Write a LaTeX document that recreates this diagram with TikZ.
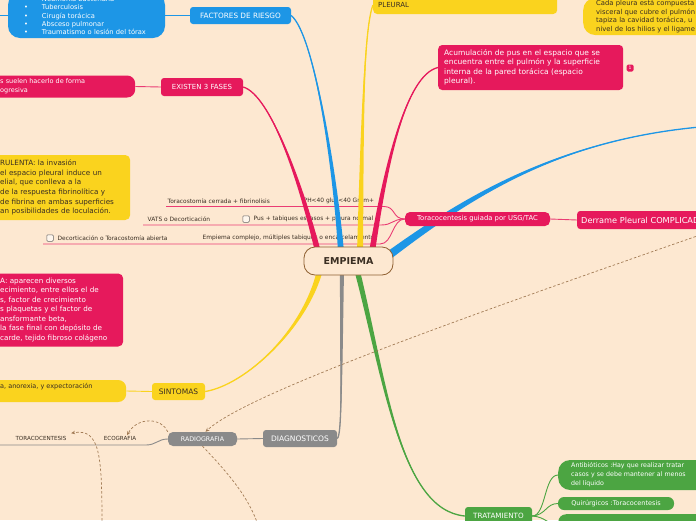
\documentclass[tikz,border=0pt]{standalone}
\usepackage{fontspec}
\setmainfont{DejaVu Sans}
\usetikzlibrary{arrows.meta,positioning,calc}
\definecolor{peach}{HTML}{FDE8D1}
\definecolor{mapblue}{HTML}{1D96E6}
\definecolor{mappink}{HTML}{E6195C}
\definecolor{mapyellow}{HTML}{FAD31E}
\definecolor{mapgray}{HTML}{8A8A8A}
\definecolor{mapgreen}{HTML}{4CA542}
\definecolor{mapbrown}{HTML}{8E5F30}
\definecolor{mapink}{HTML}{3A2E22}
\definecolor{dashbrown}{HTML}{A27B55}
\newcommand{\fsz}[2]{\fontsize{#1}{#2}\selectfont}
\pgfdeclarelayer{bg}
\pgfdeclarelayer{limbs}
\pgfsetlayers{bg,limbs,main}
\tikzset{
  topic/.style={rounded corners=3pt, inner sep=0pt, align=center},
  bluetopic/.style={topic, fill=mapblue, text=white},
  pinktopic/.style={topic, fill=mappink, text=white},
  yellowtopic/.style={topic, fill=mapyellow, text=mapink},
  graytopic/.style={topic, fill=mapgray, text=white},
  greentopic/.style={topic, fill=mapgreen, text=white},
  rootnode/.style={draw=mapbrown, line width=0.8pt, fill=peach, rounded corners=11pt,
                   minimum width=89pt, minimum height=28pt, inner sep=0pt,
                   font=\bfseries\fsz{9.5}{10}, text=mapink},
  rowtext/.style={inner sep=0.5pt, font=\fsz{5.9}{6}, text=mapink},
  checkbox/.style={draw=black!60, fill=white!60!peach, line width=0.5pt,
                   minimum size=6.5pt, inner sep=0pt, rounded corners=1pt},
  blueline/.style={draw=mapblue, line width=0.9pt},
  pinkline/.style={draw=mappink!85, line width=0.9pt},
  yellowline/.style={draw=mapyellow, line width=0.9pt},
  grayline/.style={draw=mapgray, line width=0.9pt},
  greenline/.style={draw=mapgreen, line width=0.9pt},
  dashline/.style={draw=dashbrown, line width=0.7pt, dash pattern=on 2.5pt off 2pt},
  dasharr/.style={dashline, -{Stealth[length=4pt,width=3.5pt]}},
}
% tapered branch: colour, root, ctrl near root, ctrl near tip, tip, half width at root
\newcommand{\limb}[6]{%
  \fill[#1] ($#2+#6$) .. controls ($#3+0.6*#6$) and #4 .. #5
    .. controls #4 and ($#3-0.6*#6$) .. ($#2-#6$) -- cycle;
  \draw[#1, line width=1.3pt] #2 .. controls #3 and #4 .. #5;%
}

\begin{document}
\begin{tikzpicture}[x=1pt,y=-1pt]
\useasboundingbox (0,0) rectangle (696,520);

% central topic
\node[rootnode] (empiema) at (348.5,261) {EMPIEMA};

% factores de riesgo
\node[bluetopic, minimum width=101pt, minimum height=17pt, font=\fsz{7.3}{8}]
  (factores) at (240.5,15.5) {FACTORES DE RIESGO};
\node[bluetopic, rounded corners=12pt, minimum height=45pt, text width=125pt,
      inner xsep=16pt, align=left, font=\fsz{6.7}{8.3}] (riesgos) at (86.5,15.5)
  {\makebox[18pt][l]{•}Neumonía bacteriana\\
   \makebox[18pt][l]{•}Tuberculosis\\
   \makebox[18pt][l]{•}Cirugía torácica\\
   \makebox[18pt][l]{•}Absceso pulmonar\\
   \makebox[18pt][l]{•}Traumatismo o lesión del tórax};
\coordinate (riesgoin) at (-2,15.5);

% fases
\node[pinktopic, minimum width=82pt, minimum height=18pt, font=\fsz{7}{8}]
  (fases) at (202,87) {EXISTEN 3 FASES};
\node[pinktopic, rounded corners=8pt, anchor=west, minimum height=22pt, text width=127pt,
      inner xsep=8pt, align=left, font=\fsz{6.5}{9}] (fasesdesc) at (-8,86.5)
  {s suelen hacerlo de forma\\ogresiva};
\node[yellowtopic, rounded corners=5pt, anchor=west, minimum height=65pt, text width=122pt,
      inner xsep=8pt, align=left, font=\fsz{7.2}{9.6}] (purulenta) at (-8,187.5)
  {RULENTA: la invasión\\el espacio pleural induce un\\elial, que conlleva a la\\
   de la respuesta fibrinolítica y\\de fibrina en ambas superficies\\
   an posibilidades de loculación.};
\node[pinktopic, rounded corners=5pt, anchor=west, minimum height=73pt, text width=115pt,
      inner xsep=8pt, align=left, font=\fsz{7.2}{9.5}] (organiza) at (-8,310)
  {A: aparecen diversos\\ecimiento, entre ellos el de\\s, factor de crecimiento\\
   s plaquetas y el factor de\\ansformante beta,\\la fase final con depósito de\\
   carde, tejido fibroso colágeno};

% sintomas
\node[yellowtopic, rounded corners=8pt, anchor=west, minimum width=134pt,
      minimum height=22pt] (sintdesc) at (-8,391) {};
\node[inner sep=0pt, anchor=west, font=\fsz{6.5}{7}, text=mapink]
  (sinttext) at (0,387) {a, anorexia, y expectoración};
\node[yellowtopic, minimum width=53pt, minimum height=17pt, font=\fsz{7.5}{8}]
  (sintomas) at (178.5,391.5) {SINTOMAS};

% diagnosticos
\node[graytopic, minimum width=74pt, minimum height=17pt, font=\fsz{7.5}{8}]
  (diagnosticos) at (300,438.5) {DIAGNOSTICOS};
\node[graytopic, rounded corners=5pt, minimum width=69pt, minimum height=14pt,
      font=\fsz{6.3}{7}] (radiografia) at (202.5,439) {RADIOGRAFIA};
\node[rowtext, font=\fsz{5.6}{6}] (ecografia) at (120,438) {ECOGRAFIA};
\node[rowtext, font=\fsz{5.6}{6}] (toracocentesis) at (41,438) {TORACOCENTESIS};
\coordinate (radioout) at (-2,445);
\coordinate (radioend) at (258,525);
\coordinate (toraout) at (102,525);

% derrame complicado
\node[pinktopic, rounded corners=5pt, minimum width=145pt, minimum height=14pt,
      font=\fsz{6.8}{7}] (toraco) at (477.5,219) {Toracocentesis guiada por USG/TAC};
\node[pinktopic, anchor=west, minimum height=18pt, inner xsep=4pt, font=\fsz{8.2}{9}]
  (derrame) at (577,220) {Derrame Pleural COMPLICADO};
\node[pinktopic, rounded corners=4pt, anchor=west, minimum height=45pt, text width=173pt,
      inner xsep=6pt, align=left, font=\fsz{7.5}{9.5}] (acumula) at (438,67.5)
  {Acumulación de pus en el espacio que se\\encuentra entre el pulmón y la superficie\\
   interna de la pared torácica (espacio\\pleural).};
\node[pinktopic, rounded corners=1.5pt, minimum size=7pt, font=\fsz{4.5}{5}]
  (nota) at (630,68) {1};

% pleura
\node[yellowtopic, rounded corners=4pt, anchor=west, minimum height=18pt, text width=174pt,
      inner xsep=5pt, align=left, font=\fsz{7}{8}] (pleural) at (373,5) {PLEURAL};
\node[yellowtopic, rounded corners=12pt, anchor=west, minimum height=37pt, text width=130pt,
      inner xsep=13pt, align=left, font=\fsz{6.8}{8.4}] (pleuradesc) at (583,16.5)
  {Cada pleura está compuesta\\visceral que cubre el pulmón\\tapiza la cavidad torácica, u\\
   nivel de los hilios y el ligame};

% tratamiento
\node[greentopic, minimum width=67pt, minimum height=18pt, font=\fsz{7.2}{8}]
  (tratamiento) at (498.5,516) {TRATAMIENTO};
\node[greentopic, rounded corners=12pt, anchor=west, minimum height=30pt, text width=140pt,
      inner xsep=13pt, align=left, font=\fsz{6.3}{9}] (antibio) at (558,475)
  {Antibióticos :Hay que realizar tratar\\casos y se debe mantener al menos\\del líquido};
\node[greentopic, rounded corners=6pt, minimum width=116pt, minimum height=13pt,
      font=\fsz{6.5}{7}] (quirurg) at (616,503.5) {Quirúrgicos :Toracocentesis};
\node[greentopic, rounded corners=8pt, anchor=north west, minimum width=150pt,
      minimum height=20pt] (drenaje) at (558,514) {};

\begin{pgfonlayer}{bg}
\fill[peach] (0,0) rectangle (696,520);
% rows under Toracocentesis
\coordinate (row1) at (166,206.5);
\coordinate (row2) at (143,225);
\coordinate (row3) at (43,244);
\node[rowtext, anchor=west] (cerrada) at (167,201) {Toracostomía cerrada + fibrinolisis};
\node[rowtext, anchor=west] (phgluc) at (303,201) {PH<40 gluc<40 Gram+};
\node[rowtext, anchor=west] (vats) at (147,219) {VATS o Decorticación};
\node[checkbox] (chk1) at (246,219) {};
\node[rowtext, anchor=west] (pus) at (253,219) {Pus + tabiques escasos + pleura normal};
\node[checkbox] (chk2) at (50,238) {};
\node[rowtext, anchor=west] (abierta) at (57,238) {Decorticación o Toracostomía abierta};
\node[rowtext, anchor=west] (complejo) at (202,238) {Empiema complejo, múltiples tabiques o encarcelamiento};
\draw[pinkline] (toraco.west) .. controls (392,219) and (396,206.5) .. (384,206.5) -- (row1);
\draw[pinkline] (toraco.west) .. controls (392,219) and (393,225) .. (381,225) -- (row2);
\draw[pinkline] (toraco.west) .. controls (392,219) and (393,244) .. (380,244) -- (row3);
\end{pgfonlayer}

\begin{pgfonlayer}{limbs}
\draw[blueline] (riesgoin) -- (riesgos.west);
\draw[blueline] (riesgos.east) -- (factores.west);
\draw[pinkline] (fasesdesc.east) -- (fases.west);
\draw[pinkline] (toraco.east) -- (derrame.west);
\draw[yellowline] (sintdesc.east) -- (sintomas.west);
\draw[grayline] (radiografia.east) -- (diagnosticos.west);
\draw[grayline] (radiografia.west) .. controls (158,439) and (156,445) .. (146,445) -- (radioout);
\draw[greenline] (tratamiento.east) .. controls (546,516) and (544,475) .. (antibio.west);
\draw[greenline] (tratamiento.east) .. controls (546,515) and (546,503.5) .. (quirurg.west);
\draw[greenline] (tratamiento.east) .. controls (546,517) and (546,524) .. (drenaje.west);
% main branches
\limb{mapblue}{(341,252)}{(336,180)}{(315,35)}{(factores.east)}{(3,0)}
\limb{mappink}{(318,252)}{(300,180)}{(270,95)}{(fases.east)}{(3,0)}
\limb{mapyellow}{(360,252)}{(362,150)}{(363,30)}{(pleural.west)}{(3,0)}
\limb{mappink}{(372,252)}{(385,170)}{(405,75)}{(acumula.west)}{(3,0)}
\limb{mapblue}{(388,256)}{(470,195)}{(560,140)}{(700,127)}{(2.3,3.3)}
\limb{mapyellow}{(320,270)}{(305,330)}{(245,385)}{(sintomas.east)}{(3,0)}
\limb{mapgray}{(342,270)}{(341,380)}{(342,436)}{(diagnosticos.east)}{(2,0)}
\limb{mapgreen}{(357,270)}{(385,380)}{(400,510)}{(tratamiento.west)}{(2.8,0)}
\end{pgfonlayer}

% relations
\coordinate (dashin) at (700,235);
\draw[dasharr] (dashin) .. controls (450,322) and (245,395) .. ($(radiografia.north)+(3,0)$);
\draw[dasharr] (radiografia.north west) .. controls (162,418) and (138,416) .. ($(ecografia.north)+(7,0)$);
\draw[dasharr] (toraout) .. controls (102,455) and (100,428) .. ($(toracocentesis.north east)+(4,-2)$);
\draw[dashline] (radiografia.south) .. controls (225,470) and (248,495) .. (radioend);
\end{tikzpicture}
\end{document}
